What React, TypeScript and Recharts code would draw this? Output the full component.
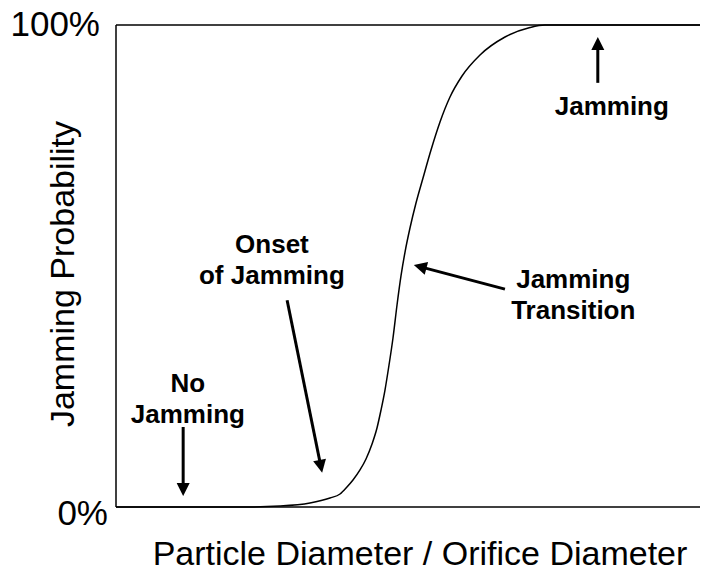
import React from 'react';
import { LineChart, Line, XAxis, YAxis, ReferenceLine, ReferenceDot, Label } from 'recharts';

const FONT = '"Liberation Sans", Arial, Helvetica, sans-serif';

// Jamming probability curve (x: relative particle/orifice diameter, 0-100 scale; y: % probability)
const curveX = [0, 21.75, 28.08, 33.22, 36.64, 38.36, 39.55, 40.58, 41.78, 42.81, 43.84, 44.69, 45.38, 46.06, 46.75, 47.43, 48.12, 48.8, 49.49, 50.34, 51.37, 52.57, 53.94, 55.48, 57.19, 59.25, 62.33, 66.61, 70.89, 73.46, 100];
const curveY = [0, 0, 0.21, 0.83, 1.87, 2.7, 4.15, 5.6, 7.68, 9.96, 13.07, 16.39, 20.12, 24.27, 29.46, 35.06, 41.91, 47.93, 52.9, 57.88, 63.07, 68.26, 74.07, 79.88, 85.06, 89.42, 93.78, 97.51, 99.48, 100, 100];

const yTicks = [0, 100];
const xAxisTitle = 'Particle Diameter / Orifice Diameter';
const yAxisTitle = 'Jamming Probability';

// Annotations
const noteLabels = [['Jamming'], ['Jamming', 'Transition'], ['Onset', 'of Jamming'], ['No', 'Jamming']];
const noteX = [84.9, 78.3, 26.7, 12.3];
const noteY = [81.3, 45.4, 52.7, 23.9];

const arrowFromX = [82.5, 66.6, 29.3, 11.5];
const arrowFromY = [88.0, 45.2, 42.9, 16.6];
const arrowToX = [82.5, 51.0, 35.3, 11.5];
const arrowToY = [97.5, 50.2, 7.1, 2.3];

const data = curveX.map((x, i) => ({ x, y: curveY[i] }));

const ArrowShape = (props: any) => {
  const x1 = Number(props.x1), y1 = Number(props.y1), x2 = Number(props.x2), y2 = Number(props.y2);
  const dx = x2 - x1, dy = y2 - y1;
  const len = Math.hypot(dx, dy) || 1;
  const ux = dx / len, uy = dy / len;
  const head = 13, half = 6.5;
  const bx = x2 - ux * head, by = y2 - uy * head;
  const px = -uy, py = ux;
  return (
    <g>
      <line x1={x1} y1={y1} x2={bx + ux} y2={by + uy} stroke="#000" strokeWidth={3} />
      <polygon points={`${x2},${y2} ${bx + px * half},${by + py * half} ${bx - px * half},${by - py * half}`} fill="#000" />
    </g>
  );
};

const makeNote = (lines: string[]) => (props: any) => {
  const { cx, cy } = props;
  return (
    <text x={cx} y={cy} textAnchor="middle" fontFamily={FONT} fontWeight="bold" fontSize={26} fill="#000">
      {lines.map((l, i) => (
        <tspan key={i} x={cx} dy={i === 0 ? 0 : 31}>{l}</tspan>
      ))}
    </text>
  );
};

const YTick = (props: any) => {
  const { x, y, payload } = props;
  return (
    <text x={x} y={y} dx={payload.value === 0 ? 0 : -8} dy={payload.value === 0 ? 18 : 11} textAnchor="end" fontFamily={FONT} fontSize={35} fill="#000">
      {`${payload.value}%`}
    </text>
  );
};

const YTitle = (props: any) => {
  const vb = props.viewBox || { x: 0, y: 25, width: 116, height: 482 };
  const cx = vb.x + 74;
  const cy = vb.y + vb.height / 2 + 8;
  return (
    <text x={cx} y={cy} transform={`rotate(-90 ${cx} ${cy})`} textAnchor="middle" fontFamily={FONT} fontSize={34} fill="#000">
      {yAxisTitle}
    </text>
  );
};

const XTitle = (props: any) => {
  const vb = props.viewBox || { x: 116, y: 507, width: 584, height: 66 };
  const cx = vb.x + vb.width / 2 + 12;
  const cy = vb.y + 58;
  return (
    <text x={cx} y={cy} textAnchor="middle" fontFamily={FONT} fontSize={34} fill="#000">
      {xAxisTitle}
    </text>
  );
};

export default function App() {
  return (
    <div style={{ position: 'absolute', left: 0, top: 0, background: '#fff' }}>
      <LineChart width={701} height={573} data={data} margin={{ top: 25, right: 1, bottom: 0, left: 0 }} style={{ fontFamily: FONT }}>
        <XAxis
          dataKey="x"
          type="number"
          domain={[0, 100]}
          tick={false}
          tickLine={false}
          height={66}
          axisLine={{ stroke: '#000', strokeWidth: 1.5 }}
        >
          <Label content={<XTitle />} />
        </XAxis>
        <YAxis
          type="number"
          domain={[0, 100]}
          ticks={yTicks}
          width={116}
          tickLine={false}
          tickSize={0}
          tickMargin={8}
          tick={<YTick />}
          axisLine={{ stroke: '#000', strokeWidth: 1.5 }}
        >
          <Label content={<YTitle />} />
        </YAxis>
        <ReferenceLine y={100} stroke="#000" strokeWidth={1.5} />
        <Line
          type="monotone"
          dataKey="y"
          stroke="#000"
          strokeWidth={1.5}
          dot={false}
          activeDot={false}
          isAnimationActive={false}
        />
        {arrowFromX.map((fx, i) => (
          <ReferenceLine
            key={`a${i}`}
            segment={[{ x: fx, y: arrowFromY[i] }, { x: arrowToX[i], y: arrowToY[i] }]}
            shape={ArrowShape}
          />
        ))}
        {noteLabels.map((lines, i) => (
          <ReferenceDot key={`n${i}`} x={noteX[i]} y={noteY[i]} r={0} shape={makeNote(lines)} />
        ))}
      </LineChart>
    </div>
  );
}
